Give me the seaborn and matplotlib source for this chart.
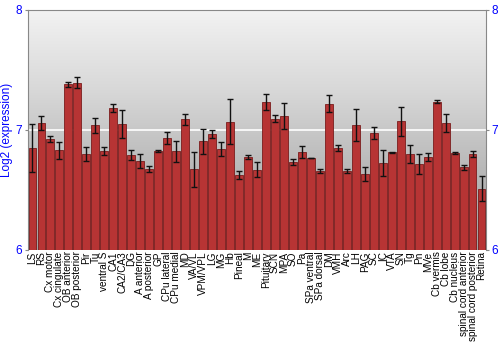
import numpy as np
import pandas as pd
import matplotlib
matplotlib.use("Agg")
import matplotlib.pyplot as plt
import seaborn as sns
from matplotlib.colors import LinearSegmentedColormap

regions = ["LS", "RS", "Cx motor", "Cx cingulate", "OB anterior", "OB posterior", "Pir", "Tu",
           "ventral S", "CA1", "CA2/CA3", "DG", "A anterior", "A posterior", "GP", "CPu lateral",
           "CPu medial", "MD", "VA/VL", "VPM/VPL", "LG", "MG", "Hb", "Pineal", "M", "ME",
           "Pituitary", "SCN", "MPA", "SO", "Pa", "SPa ventral", "SPa dorsal", "DM", "VMH", "Arc",
           "LH", "PAG", "SC", "IC", "VTA", "SN", "Tg", "Pn", "MVe", "Cb vermis", "Cb lobe",
           "Cb nucleus", "spinal cord anterior", "spinal cord posterior", "Retina"]
expression = [6.853, 7.061, 6.925, 6.830, 7.380, 7.394, 6.800, 7.039,
              6.825, 7.183, 7.050, 6.790, 6.744, 6.675, 6.825, 6.933,
              6.822, 7.089, 6.672, 6.906, 6.964, 6.844, 7.070, 6.625, 6.775, 6.669,
              7.233, 7.094, 7.117, 6.731, 6.817, 6.767, 6.656, 7.217, 6.850, 6.656,
              7.042, 6.636, 6.978, 6.725, 6.814, 7.072, 6.797, 6.717, 6.775, 7.236, 7.058,
              6.808, 6.689, 6.800, 6.511]
error = [0.200, 0.057, 0.028, 0.068, 0.024, 0.046, 0.058, 0.061,
         0.036, 0.032, 0.120, 0.042, 0.057, 0.022, 0.006, 0.053,
         0.085, 0.047, 0.147, 0.103, 0.032, 0.060, 0.190, 0.036, 0.019, 0.062,
         0.065, 0.028, 0.112, 0.025, 0.051, 0.003, 0.015, 0.071, 0.022, 0.015,
         0.130, 0.058, 0.051, 0.106, 0.006, 0.122, 0.076, 0.083, 0.033, 0.015, 0.078,
         0.005, 0.019, 0.022, 0.103]
yticks = [6, 7, 8]

df = pd.DataFrame({"region": regions, "expr": expression, "err": error})

sns.set_style("white")
plt.rcParams["font.family"] = ["Liberation Sans", "DejaVu Sans"]

fig = plt.figure(figsize=(5, 3.5), dpi=100)
# axes from x=28..486 px, y=10..250 px
ax = fig.add_axes([28 / 500, 100 / 350, 458 / 500, 240 / 350])

n = len(regions)
# gradient background: dark at bottom, light at top
grad = np.linspace(0, 1, 256).reshape(-1, 1)
cmap = LinearSegmentedColormap.from_list("bg", ["#a2a2a2", "#b8b8b8", "#d8d8d8", "#f2f2f2"])
ax.imshow(grad, aspect="auto", cmap=cmap, extent=(-0.5, n - 0.5, 6, 8),
          zorder=0, origin="lower")
ax.axhline(7, color="white", lw=1.2, zorder=1)

sns.barplot(data=df, x="region", y="expr", color="#b73434", saturation=1,
            edgecolor="#7a1c1c", linewidth=0.6, width=0.88, errorbar=None, ax=ax)
for p in ax.patches:
    p.set_zorder(2)
ax.errorbar(np.arange(n), df["expr"], yerr=df["err"], fmt="none",
            ecolor="#111111", elinewidth=1, capsize=2, capthick=1, zorder=3)

ax.set_xlim(-0.5, n - 0.5)
ax.set_ylim(6, 8)
ax.set_yticks(yticks)
ax.set_yticklabels([str(t) for t in yticks])
ax.tick_params(axis="y", colors="#888888", labelcolor="blue", labelsize=8.5,
               left=True, right=True, labelleft=True, labelright=True,
               length=2.5, width=0.8, pad=1.5)
ax.tick_params(axis="x", labelrotation=90, labelsize=7.2, length=0, pad=1)
for lab in ax.get_xticklabels():
    lab.set_color("black")
ax.set_xlabel("")
ax.set_ylabel("Log2 (expression)", color="blue", fontsize=8.5, labelpad=2)
for s in ax.spines.values():
    s.set_color("#888888")
    s.set_linewidth(0.8)
ax.spines["bottom"].set_visible(False)

fig.savefig("out.png", dpi=100)
